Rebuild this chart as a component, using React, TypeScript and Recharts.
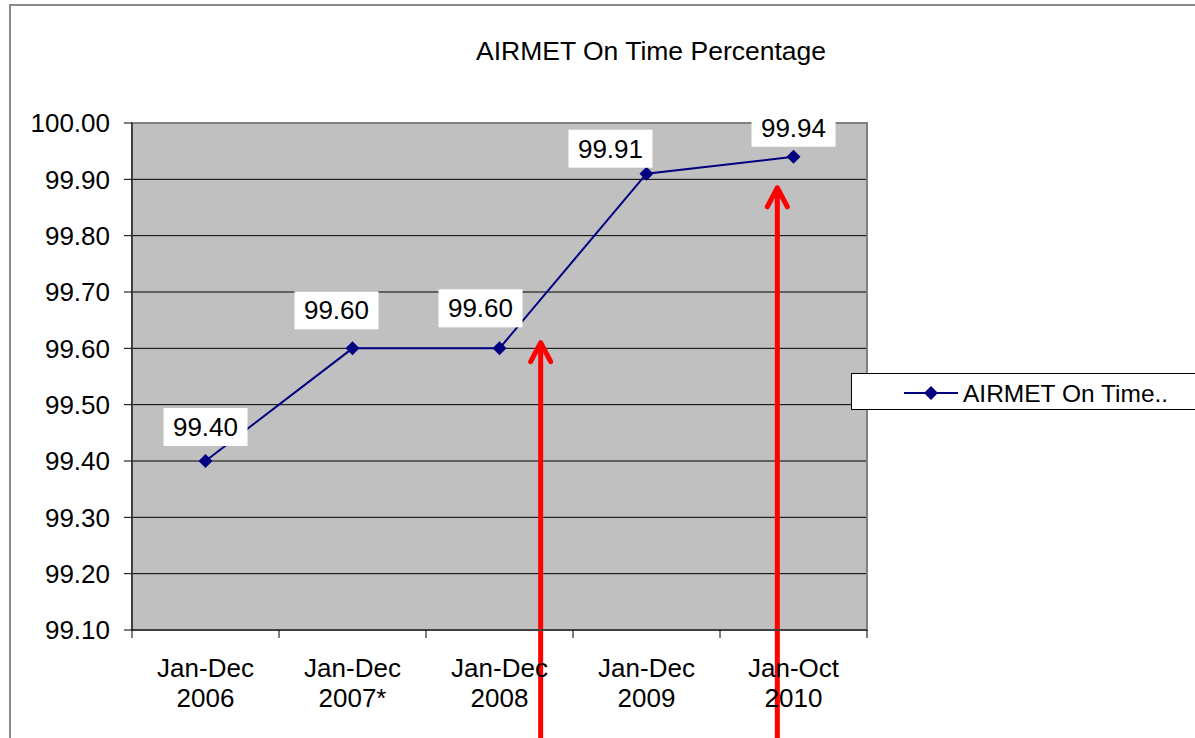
import { LineChart, Line, XAxis, YAxis, CartesianGrid, ReferenceArea, ReferenceLine, LabelList } from 'recharts';

const categories = ['Jan-Dec\n2006', 'Jan-Dec\n2007*', 'Jan-Dec\n2008', 'Jan-Dec\n2009', 'Jan-Oct\n2010'];
const onTime = [99.4, 99.6, 99.6, 99.91, 99.94];
const yTicks = [99.1, 99.2, 99.3, 99.4, 99.5, 99.6, 99.7, 99.8, 99.9, 100.0];
const seriesName = 'AIRMET On Time..';
const title = 'AIRMET On Time Percentage';

// hand-placed data labels, as in the original (pixel nudges)
const labelDx = [0, -16, -19, -36, 0];
const labelDy = [-34, -38, -40, -25, -29];

// red annotation arrows: x in category units, tip value on the y scale
const arrowX = [2.28, 3.89];
const arrowTip = [99.61, 99.885];
const arrowFoot = 98.9;

const data = onTime.map((value, i) => ({ idx: i, value }));
const xTicks = [-0.5, 0.5, 1.5, 2.5, 3.5, 4.5];

const FONT = '"Liberation Sans", Arial, sans-serif';
const NAVY = '#000080';

function Diamond({ cx, cy, index }: any) {
    if (cx == null || cy == null) return null;
    const r = 7;
    return <path key={`d-${index}`} d={`M${cx},${cy - r}L${cx + r},${cy}L${cx},${cy + r}L${cx - r},${cy}Z`} fill={NAVY} />;
}

function XTick({ x, y, payload, width }: any) {
    const i = Math.round(payload.value + 0.5);
    if (i >= categories.length) return <g />;
    const half = (width || 735) / categories.length / 2;
    const lines = categories[i].split('\n');
    return (
        <g>
            {lines.map((t, k) => (
                <text key={k} x={x + half} y={y + 37 + k * 30} textAnchor="middle" fontSize={26} fill="#000" fontFamily={FONT}>
                    {t}
                </text>
            ))}
        </g>
    );
}

function DataLabel({ x, y, value, index }: any) {
    const cx = x + labelDx[index];
    const cy = y + labelDy[index];
    return (
        <g>
            <rect x={cx - 42} y={cy - 19} width={84} height={38} fill="#fff" />
            <text x={cx} y={cy + 9} textAnchor="middle" fontSize={26} fill="#000" fontFamily={FONT}>
                {Number(value).toFixed(2)}
            </text>
        </g>
    );
}

function Arrow({ x1, y1, x2, y2 }: any) {
    return (
        <g>
            <line x1={x1} y1={y1} x2={x2} y2={y2 + 3} stroke="#ff0000" strokeWidth={5} />
            <polyline
                points={`${x2 - 10},${y2 + 19} ${x2},${y2} ${x2 + 10},${y2 + 19}`}
                fill="none"
                stroke="#ff0000"
                strokeWidth={5}
                strokeLinecap="round"
                strokeLinejoin="round"
            />
        </g>
    );
}

export default function App() {
    return (
        <div style={{ position: 'absolute', left: 0, top: 0, width: 1195, height: 738, overflow: 'hidden', background: '#fff', fontFamily: FONT }}>
            <div style={{ position: 'absolute', left: 9, top: 4, width: 1400, height: 1000, border: '2px solid #8a8a8a' }} />
            <svg style={{ position: 'absolute', left: 0, top: 0 }} width={1195} height={80}>
                <text x={651} y={60} textAnchor="middle" fontSize={26.5} fill="#000" fontFamily={FONT}>{title}</text>
            </svg>
            <div style={{ position: 'absolute', left: 0, top: 0 }}>
                <LineChart width={1195} height={738} data={data} margin={{ top: 123, right: 328, bottom: 8, left: 12 }}>
                    <CartesianGrid vertical={false} fill="#c0c0c0" stroke="#000" strokeOpacity={1} />
                    <ReferenceArea x1={-0.5} x2={4.5} y1={99.1} y2={100} fill="none" stroke="#808080" strokeWidth={2} ifOverflow="visible" />
                    <XAxis
                        dataKey="idx"
                        type="number"
                        domain={[-0.5, 4.5]}
                        ticks={xTicks}
                        height={100}
                        tickSize={8}
                        axisLine={{ stroke: '#404040', strokeWidth: 2 }}
                        tickLine={{ stroke: '#000' }}
                        tick={<XTick />}
                        interval={0}
                    />
                    <YAxis
                        domain={[99.1, 100]}
                        ticks={yTicks}
                        width={120}
                        tickSize={8}
                        tickMargin={14}
                        tickFormatter={(v: number) => v.toFixed(2)}
                        axisLine={{ stroke: '#000' }}
                        tickLine={{ stroke: '#000' }}
                        tick={{ fill: '#000', fontSize: 26, fontFamily: FONT }}
                        allowDataOverflow
                        interval={0}
                    />
                    <Line
                        dataKey="value"
                        name={seriesName}
                        stroke={NAVY}
                        strokeWidth={2}
                        dot={<Diamond />}
                        activeDot={false}
                        isAnimationActive={false}
                    >
                        <LabelList dataKey="value" content={<DataLabel />} />
                    </Line>
                    {arrowX.map((ax, i) => (
                        <ReferenceLine
                            key={i}
                            segment={[{ x: ax, y: arrowFoot }, { x: ax, y: arrowTip[i] }]}
                            ifOverflow="visible"
                            shape={<Arrow />}
                        />
                    ))}
                </LineChart>
            </div>
            <div
                style={{
                    position: 'absolute',
                    left: 851,
                    top: 373,
                    width: 400,
                    height: 37,
                    background: '#fff',
                    border: '1px solid #000',
                    boxSizing: 'border-box',
                }}
            >
                <svg width={400} height={37} style={{ position: 'absolute', left: 0, top: 0 }}>
                    <line x1={52} y1={19} x2={106} y2={19} stroke={NAVY} strokeWidth={2} />
                    <path d="M79,12L86,19L79,26L72,19Z" fill={NAVY} />
                    <text x={111} y={28} fontSize={24.5} fill="#000" fontFamily={FONT}>{seriesName}</text>
                </svg>
            </div>
        </div>
    );
}
